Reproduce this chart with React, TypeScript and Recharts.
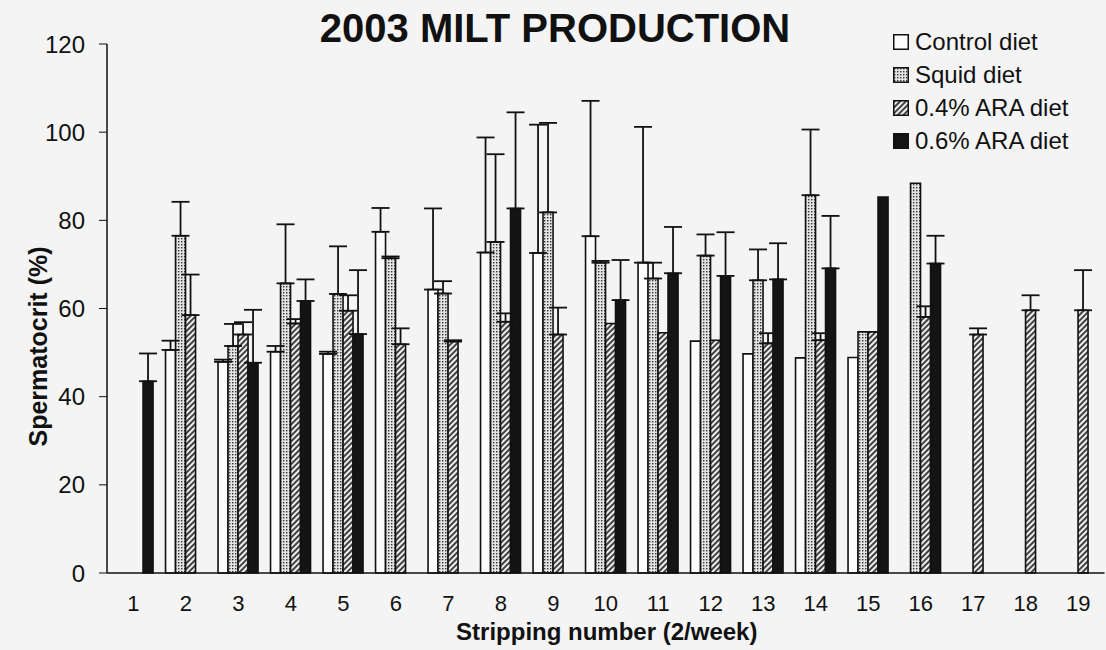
import { Bar, BarChart, ErrorBar, XAxis, YAxis } from "recharts";

const STRIPPINGS = ["1", "2", "3", "4", "5", "6", "7", "8", "9", "10", "11", "12", "13", "14", "15", "16", "17", "18", "19"];

const CONTROL = [null, 50.6, 47.9, 50.2, 49.7, 77.4, 64.3, 72.7, 72.6, 76.4, 70.4, 52.6, 49.7, 48.8, 48.9, null, null, null, null];
const CONTROL_ERR = [null, 2.1, 0.5, 1.3, 0.5, 5.4, 18.4, 26.1, 29.1, 30.7, 30.8, null, null, null, null, null, null, null, null];

const SQUID = [null, 76.5, 51.5, 65.7, 63.3, 71.4, 63.4, 75.1, 81.8, 70.4, 66.8, 72.0, 66.4, 85.7, 54.7, 88.4, null, null, null];
const SQUID_ERR = [null, 7.7, 5.0, 13.4, 10.8, 0.4, 2.8, 19.9, 20.3, 0.4, 3.6, 4.8, 7.0, 14.9, null, null, null, null, null];

const ARA04 = [null, 58.5, 54.1, 56.6, 59.5, 51.9, 52.5, 57.0, 54.1, 56.6, 54.5, 52.8, 52.1, 52.8, 54.7, 58.1, 54.1, 59.6, 59.6];
const ARA04_ERR = [null, 9.2, 2.8, 1.0, 3.5, 3.6, 0.3, 1.9, 6.1, null, null, null, 2.3, 1.6, null, 2.4, 1.4, 3.4, 9.1];

const ARA06 = [43.5, null, 47.7, 61.7, 54.2, null, null, 82.7, null, 61.9, 68.0, 67.4, 66.6, 69.1, 85.3, 70.2, null, null, null];
const ARA06_ERR = [6.3, null, 12.0, 4.9, 14.5, null, null, 21.8, null, 9.1, 10.5, 9.9, 8.2, 11.9, null, 6.3, null, null, null];

const Y_TICKS = [0, 20, 40, 60, 80, 100, 120];
const GROUP_BOUNDS = [0, 1, 2, 3, 4, 5, 6, 7, 8, 9, 10, 11, 12, 13, 14, 15, 16, 17, 18, 19];

const SERIES = [
  { key: "control", name: "Control diet", fill: "#fbfbfb" },
  { key: "squid", name: "Squid diet", fill: "url(#squidDots)" },
  { key: "ara04", name: "0.4% ARA diet", fill: "url(#araHatch)" },
  { key: "ara06", name: "0.6% ARA diet", fill: "#141414" },
];

const INK = "#111";
const FONT = '"Liberation Sans", Arial, Helvetica, sans-serif';

// only the upper half of each error bar is drawn in the original
function upOnly(err: number | null) {
  return err == null ? null : [0, err];
}

function YTitle(props: any) {
  const vb = props.viewBox;
  const x = vb.x - 9;
  const y = vb.y + vb.height / 2 + 38;
  return (
    <text
      x={x}
      y={y}
      transform={`rotate(-90 ${x} ${y})`}
      textAnchor="middle"
      dominantBaseline="central"
      fontSize={25}
      fontWeight="bold"
      fontFamily={FONT}
      fill={INK}
    >
      Spermatocrit (%)
    </text>
  );
}

function XTitle(props: any) {
  const vb = props.viewBox;
  return (
    <text
      x={vb.x + vb.width / 2 + 1}
      y={vb.y + 67}
      textAnchor="middle"
      fontSize={24}
      fontWeight="bold"
      fontFamily={FONT}
      fill={INK}
    >
      Stripping number (2/week)
    </text>
  );
}

export default function App() {
  const rows = STRIPPINGS.map((stripping, i) => ({
    stripping,
    control: CONTROL[i],
    controlErr: upOnly(CONTROL_ERR[i]),
    squid: SQUID[i],
    squidErr: upOnly(SQUID_ERR[i]),
    ara04: ARA04[i],
    ara04Err: upOnly(ARA04_ERR[i]),
    ara06: ARA06[i],
    ara06Err: upOnly(ARA06_ERR[i]),
  }));

  return (
    <div
      style={{
        position: "absolute",
        left: 0,
        top: 0,
        width: 1106,
        height: 650,
        background: "#f4f4f4",
        fontFamily: FONT,
        color: INK,
        overflow: "hidden",
      }}
    >
      <BarChart
        width={1106}
        height={650}
        data={rows}
        margin={{ top: 44, right: 1.5, bottom: 0, left: 47 }}
        barCategoryGap="11.5%"
        barGap={0}
      >
        <defs>
          <pattern id="squidDots" width="3" height="3" patternUnits="userSpaceOnUse">
            <rect width="3" height="3" fill="#e4e4e4" />
            <rect x="1" y="1" width="1.4" height="1.4" fill="#333" />
          </pattern>
          <pattern id="araHatch" width="4" height="4" patternUnits="userSpaceOnUse" patternTransform="rotate(45)">
            <rect width="4" height="4" fill="#eeeeee" />
            <line x1="2" y1="0" x2="2" y2="4" stroke="#222" strokeWidth="1.7" />
          </pattern>
        </defs>

        <XAxis
          xAxisId="bounds"
          type="number"
          domain={[0, 19]}
          ticks={GROUP_BOUNDS}
          tick={false}
          tickSize={6}
          tickLine={{ stroke: INK }}
          axisLine={false}
          height={0}
        />
        <XAxis
          xAxisId="cat"
          dataKey="stripping"
          height={77}
          interval={0}
          tickLine={false}
          tickSize={6}
          tickMargin={16}
          axisLine={{ stroke: INK, strokeWidth: 1.5 }}
          tick={{ fontSize: 22, fill: INK, fontFamily: FONT }}
          label={XTitle}
        />
        <YAxis
          domain={[0, 120]}
          ticks={Y_TICKS}
          width={60}
          tickSize={8}
          tickMargin={14}
          axisLine={{ stroke: INK, strokeWidth: 1.5 }}
          tickLine={{ stroke: INK }}
          tick={{ fontSize: 24, fill: INK, fontFamily: FONT }}
          label={YTitle}
        />

        {SERIES.map((s) => (
          <Bar
            key={s.key}
            xAxisId="cat"
            dataKey={s.key}
            name={s.name}
            fill={s.fill}
            stroke={INK}
            strokeWidth={1.6}
            isAnimationActive={false}
          >
            <ErrorBar dataKey={`${s.key}Err`} direction="y" width={9} stroke={INK} strokeWidth={1.8} />
          </Bar>
        ))}
      </BarChart>

      <div
        style={{
          position: "absolute",
          left: 555,
          top: 9,
          transform: "translateX(-50%)",
          fontSize: 40,
          lineHeight: "39px",
          fontWeight: "bold",
          whiteSpace: "nowrap",
        }}
      >
        2003 MILT PRODUCTION
      </div>

      <div style={{ position: "absolute", left: 893, top: 25 }}>
        {SERIES.map((s) => (
          <div key={s.key} style={{ display: "flex", alignItems: "center", height: 33 }}>
            <svg width={16} height={16} style={{ marginRight: 6 }}>
              <rect x={0.75} y={0.75} width={14.5} height={14.5} fill={s.fill} stroke={INK} strokeWidth={1.5} />
            </svg>
            <span style={{ fontSize: 24, lineHeight: "33px", whiteSpace: "nowrap" }}>{s.name}</span>
          </div>
        ))}
      </div>
    </div>
  );
}
